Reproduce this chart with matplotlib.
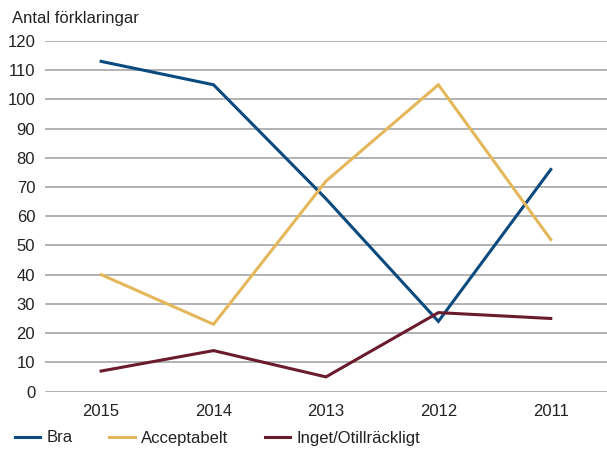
import matplotlib
matplotlib.use("Agg")
import matplotlib.pyplot as plt

plt.rcParams['font.family'] = ['Liberation Sans', 'DejaVu Sans']

years = ["2015", "2014", "2013", "2012", "2011"]
bra = [113, 105, 66, 24, 76]
acceptabelt = [40, 23, 72, 105, 52]
inget = [7, 14, 5, 27, 25]
series_names = ["Bra", "Acceptabelt", "Inget/Otillräckligt"]
colors = ["#0b4a7e", "#e4b85a", "#6b1c2c"]
yticks = list(range(0, 121, 10))

FS = 12

fig = plt.figure(figsize=(6.07, 4.5), dpi=100)
ax = fig.add_axes([0.074, 0.13, 0.926, 0.779])

x = list(range(len(years)))
for vals, name, c in zip([bra, acceptabelt, inget], series_names, colors):
    ax.plot(x, vals, color=c, lw=2.2, label=name, solid_joinstyle='miter')

ax.set_xlim(-0.5, 4.5)
ax.set_ylim(0, 120)
ax.set_yticks(yticks)
ax.set_xticks(x)
ax.set_xticklabels(years)
ax.grid(axis='y', color='#a6a6a6', lw=1.2)
ax.set_axisbelow(True)
for s in ax.spines.values():
    s.set_visible(False)
ax.tick_params(length=0, labelsize=FS, colors='#222222')
ax.tick_params(axis='y', pad=7)
ax.tick_params(axis='x', pad=9)

fig.text(0.02, 0.958, "Antal förklaringar", fontsize=FS, color='#222222', va='center', ha='left')

leg = fig.legend(loc='center left', bbox_to_anchor=(0.024, 1 - 438 / 450), ncol=3, frameon=False,
                 fontsize=FS, handlelength=1.55, handletextpad=0.35, columnspacing=2.2,
                 borderaxespad=0, borderpad=0)
for t in leg.get_texts():
    t.set_color('#222222')

fig.savefig("out.png", dpi=100)
